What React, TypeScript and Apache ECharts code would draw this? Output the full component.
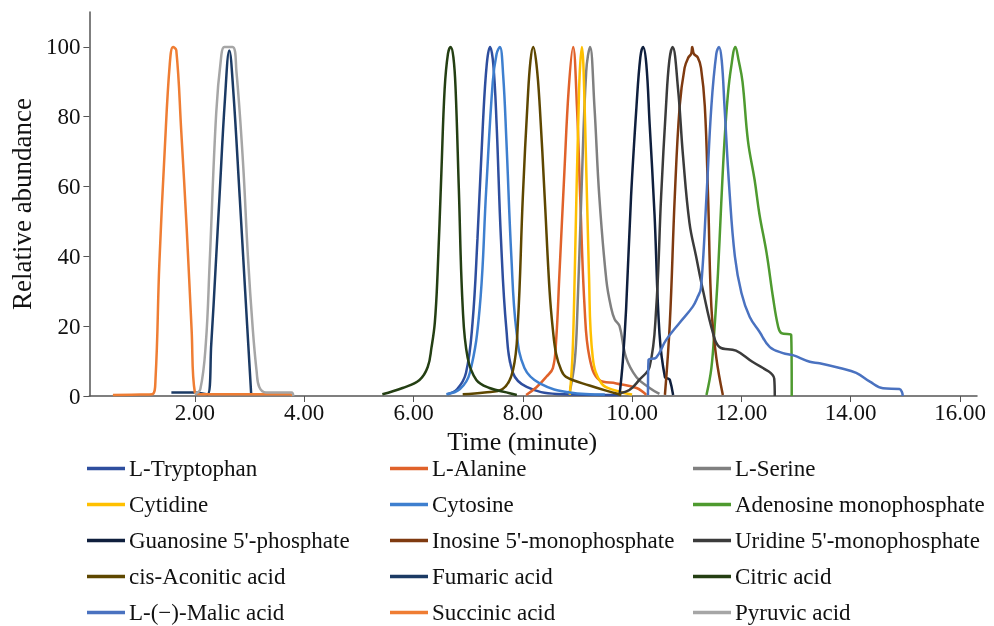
import React, { useEffect, useRef } from "react";
import * as echarts from "echarts";

// [time (minute), relative abundance]
const tryptophan = [[6.62,0.5],[6.8,2],[6.96,6.6],[7.08,21],[7.17,45],[7.27,78],[7.34,95],[7.4,100],[7.46,95],[7.52,78],[7.6,45],[7.7,19],[7.82,6.6],[8.07,2.6],[8.62,0.6],[9.8,0.3]];
const alanine = [[8.06,0.3],[8.25,2.5],[8.43,5.5],[8.55,8],[8.61,16],[8.67,35],[8.76,64],[8.84,88],[8.92,100],[8.99,83],[9.05,57],[9.13,25.5],[9.22,11],[9.4,4.6],[9.71,3.6],[10.08,2.3],[10.26,0.3]];
const serine = [[8.85,0.5],[8.95,10],[9.0,25],[9.07,57],[9.16,93],[9.23,100],[9.31,83],[9.4,57],[9.53,33],[9.62,25],[9.68,22],[9.77,20],[9.89,11],[10.08,5.4],[10.32,2.3],[10.5,0.6]];
const cytidine = [[8.86,0.3],[8.91,12],[8.95,35],[9.03,88],[9.08,100],[9.14,78],[9.21,35],[9.28,11],[9.44,3.6],[9.71,1.5],[10.0,0.4]];
const cytosine = [[6.6,0.5],[6.85,2],[7.03,6.6],[7.21,25],[7.33,59],[7.45,90],[7.52,98],[7.58,100],[7.64,92],[7.7,73],[7.79,40],[7.88,19],[8.03,8],[8.31,3.6],[8.86,1],[9.5,0.4]];
const amp = [[11.36,0.3],[11.45,8],[11.51,20],[11.57,35],[11.63,55],[11.69,73],[11.75,86],[11.81,94],[11.89,100],[11.95,96],[12.02,90],[12.12,73],[12.24,62],[12.33,52],[12.46,41],[12.58,28],[12.67,20],[12.73,18],[12.91,17.5],[12.92,0]];
const guanosine = [[9.77,0.3],[9.83,10],[9.89,25],[9.98,57],[10.08,83],[10.15,97],[10.2,100],[10.26,95],[10.32,78],[10.41,52],[10.5,18],[10.6,5.4],[10.66,5],[10.69,4.6],[10.75,0.3]];
const inosine = [[10.6,0.3],[10.69,21],[10.78,57],[10.87,83],[10.96,94],[11.03,97],[11.08,98],[11.1,100],[11.13,98],[11.2,97],[11.26,94],[11.33,83],[11.39,57],[11.45,25.5],[11.54,11],[11.66,0.3]];
const uridine = [[9.77,0.8],[9.95,1.7],[10.13,4.6],[10.32,8.4],[10.44,25],[10.53,57],[10.62,83],[10.68,96],[10.74,100],[10.84,88],[10.93,69],[11.05,49.5],[11.17,40],[11.3,30],[11.48,18],[11.6,14],[11.9,13],[12.2,9.8],[12.5,7],[12.57,6],[12.6,5],[12.61,0]];
const aconitic = [[6.9,0.5],[7.3,1],[7.63,2],[7.82,7.4],[7.91,21],[8.0,57],[8.09,85],[8.14,96],[8.19,100],[8.25,95],[8.31,83],[8.4,57],[8.49,30],[8.55,19],[8.61,12],[8.7,7.5],[8.79,5.5],[9.22,3],[9.71,0.7],[9.8,0.3]];
const fumaric = [[1.57,1],[1.96,1],[2.23,0.5],[2.3,15],[2.38,37],[2.45,57],[2.55,85],[2.63,99],[2.7,88],[2.82,57],[2.92,30],[3.03,0.5]];
const citric = [[5.43,0.5],[5.8,2.3],[6.11,4.6],[6.26,8.3],[6.33,14],[6.39,21],[6.44,35],[6.51,64],[6.57,88],[6.63,98],[6.68,100],[6.73,97],[6.77,88],[6.83,59],[6.9,25.5],[6.99,11],[7.15,4.6],[7.39,2.3],[7.76,0.8],[7.89,0.3]];
const malic = [[10.29,0.3],[10.3,10.3],[10.44,11],[10.62,16],[10.87,21],[11.11,25.6],[11.2,28.4],[11.26,31],[11.36,57],[11.45,83],[11.54,98],[11.59,100],[11.64,96],[11.69,83],[11.78,59],[11.88,40],[12.0,29.5],[12.15,22.7],[12.33,18.4],[12.52,14],[12.76,12.3],[12.94,11.7],[13.25,9.8],[13.43,9.4],[13.8,8],[14.1,6.6],[14.35,4.1],[14.59,2.2],[14.89,2],[14.94,1],[14.95,0]];
const succinic = [[0.5,0.3],[1.0,0.4],[1.22,0.5],[1.28,5],[1.35,38],[1.45,71],[1.54,95],[1.6,100],[1.66,99],[1.75,76],[1.85,48],[1.94,19],[2.0,1],[2.1,0.5],[3.0,0.5],[3.75,0.5],[3.78,0]];
const pyruvic = [[2.0,0.5],[2.1,2],[2.2,15],[2.27,38],[2.39,81],[2.48,97],[2.54,100],[2.69,100],[2.76,93],[2.88,67],[2.97,40],[3.06,19],[3.13,7],[3.18,2.5],[3.3,1],[3.77,1],[3.8,0]];

const names = [
  "L-Tryptophan", "L-Alanine", "L-Serine",
  "Cytidine", "Cytosine", "Adenosine monophosphate",
  "Guanosine 5'-phosphate", "Inosine 5'-monophosphate", "Uridine 5'-monophosphate",
  "cis-Aconitic acid", "Fumaric acid", "Citric acid",
  "L-(\u2212)-Malic acid", "Succinic acid", "Pyruvic acid",
];
const seriesData = [
  tryptophan, alanine, serine,
  cytidine, cytosine, amp,
  guanosine, inosine, uridine,
  aconitic, fumaric, citric,
  malic, succinic, pyruvic,
];
const colors = [
  "#2E4E9E", "#E0622A", "#808080",
  "#FFC000", "#3E7FCF", "#4E9A2F",
  "#0F1F3D", "#7F3A10", "#3B3B3B",
  "#5E4700", "#1B3A64", "#243F13",
  "#4A72C0", "#EF7D33", "#A6A6A6",
];
const xTicks = [2, 4, 6, 8, 10, 12, 14, 16];
const yTicks = [0, 20, 40, 60, 80, 100];

const FONT = "Liberation Serif";

export default function App() {
  const ref = useRef<HTMLDivElement>(null);
  useEffect(() => {
    if (!ref.current) return;
    const chart = echarts.init(ref.current, null, { renderer: "svg" });
    const legendCols = [0, 1, 2].map((c) => names.filter((_, i) => i % 3 === c));
    const legendLefts = [87, 390, 693];
    chart.setOption({
      animation: false,
      color: colors,
      textStyle: { fontFamily: FONT },
      grid: { left: 89, right: 17, top: 12, bottom: 230 },
      xAxis: {
        type: "value",
        min: 0.07,
        max: 16.31,
        name: "Time (minute)",
        nameLocation: "middle",
        nameGap: 25,
        nameTextStyle: { fontFamily: FONT, fontSize: 26, color: "#111", padding: [0, 22, 0, 0] },
        axisLine: { lineStyle: { color: "#555", width: 1.5 } },
        axisTick: { show: true, customValues: xTicks, length: 6, lineStyle: { color: "#555" } },
        axisLabel: {
          customValues: xTicks,
          fontFamily: FONT, fontSize: 23, color: "#111", margin: 5,
          formatter: (v: number) => v.toFixed(2),
        },
        splitLine: { show: false },
      },
      yAxis: {
        type: "value",
        min: 0,
        max: 110,
        name: "Relative abundance",
        nameLocation: "middle",
        nameGap: 51,
        nameTextStyle: { fontFamily: FONT, fontSize: 27, color: "#111" },
        axisLine: { show: true, lineStyle: { color: "#555", width: 1.5 } },
        axisTick: { show: true, customValues: yTicks, length: 6, lineStyle: { color: "#555" } },
        axisLabel: { customValues: yTicks, fontFamily: FONT, fontSize: 23, color: "#111", margin: 9 },
        splitLine: { show: false },
      },
      legend: legendCols.map((col, c) => ({
        data: col,
        orient: "vertical",
        left: legendLefts[c],
        top: 457,
        height: 260,
        icon: "rect",
        itemWidth: 38,
        itemHeight: 3.5,
        itemGap: 13,
        padding: 0,
        textStyle: { fontFamily: FONT, fontSize: 23, color: "#111", lineHeight: 23, padding: [0, 0, 0, -1] },
      })),
      series: names.map((n, i) => ({
        name: n,
        type: "line",
        data: seriesData[i],
        symbol: "none",
        smooth: 0.4,
        lineStyle: { width: 2.5, color: colors[i] },
        itemStyle: { color: colors[i] },
      })),
    });
    return () => chart.dispose();
  }, []);
  return <div ref={ref} style={{ position: "fixed", left: 0, top: 0, width: 994, height: 626 }} />;
}
